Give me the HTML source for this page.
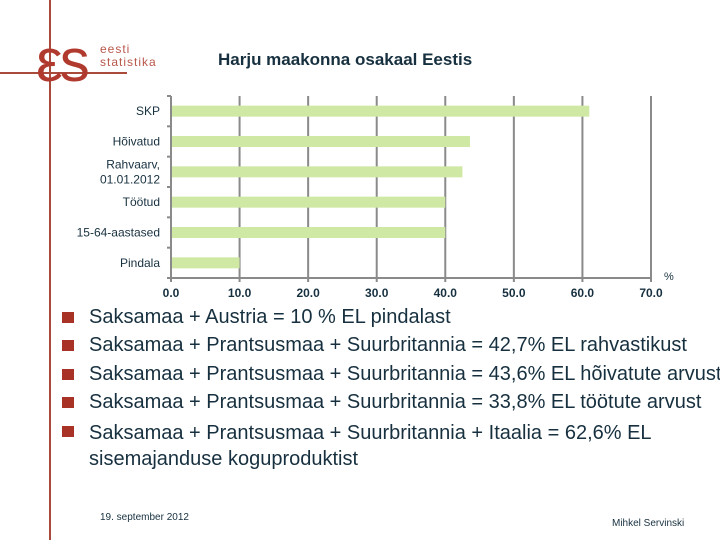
<!DOCTYPE html>
<html><head><meta charset="utf-8"><style>
body{margin:0;width:720px;height:540px;background:#fff;position:relative;overflow:hidden;font-family:"Liberation Sans",sans-serif}
.abs{position:absolute}
.bl{position:absolute;left:89px;font-size:20px;color:#17303f;white-space:nowrap;line-height:22px}
.sq{position:absolute;left:62px;width:12px;height:11px;background:#a93226}
</style></head><body>
<div class="abs" style="left:49px;top:0;width:2px;height:540px;background:#a94a3a"></div>
<div class="abs" style="left:0;top:72px;width:127px;height:2px;background:#a94a3a"></div>
<div class="abs" style="left:36px;top:28px;font-size:60px;color:#b03a2e;line-height:66px;letter-spacing:-3px">εs</div>
<div class="abs" style="left:100px;top:43px;font-size:12px;color:#b8574a;line-height:13px;letter-spacing:1px">eesti<br>statistika</div>
<div class="abs" style="left:218px;top:50px;font-size:17px;font-weight:bold;color:#17303f">Harju maakonna osakaal Eestis</div>
<svg class="abs" style="left:0;top:0" width="720" height="310">
<g id="g"></g></svg>
<div class="sq" style="top:312px"></div>
<div class="bl" style="top:306px">Saksamaa + Austria = 10 % EL pindalast</div>
<div class="sq" style="top:340px"></div>
<div class="bl" style="top:334px">Saksamaa + Prantsusmaa + Suurbritannia = 42,7% EL rahvastikust</div>
<div class="sq" style="top:369px"></div>
<div class="bl" style="top:363px">Saksamaa + Prantsusmaa + Suurbritannia = 43,6% EL hõivatute arvust</div>
<div class="sq" style="top:397px"></div>
<div class="bl" style="top:391px">Saksamaa + Prantsusmaa + Suurbritannia = 33,8% EL töötute arvust</div>
<div class="sq" style="top:426px"></div>
<div class="bl" style="top:420px;line-height:26px">Saksamaa + Prantsusmaa + Suurbritannia + Itaalia = 62,6% EL<br>sisemajanduse koguproduktist</div>
<div class="abs" style="left:100px;top:512px;font-size:10px;color:#17303f">19. september 2012</div>
<div class="abs" style="left:612px;top:518px;font-size:10px;color:#17303f">Mihkel Servinski</div>
<script>
const categories=["SKP","Hõivatud","Rahvaarv,|01.01.2012","Töötud","15-64-aastased","Pindala"];
const values=[61.0,43.6,42.5,40.0,40.0,10.0];
const ticks=[0,10,20,30,40,50,60,70];
const tickLabels=["0.0","10.0","20.0","30.0","40.0","50.0","60.0","70.0"];
const x0=171,x1=651,yTop=96,yBot=278,vmax=70;
const xs=v=>x0+(x1-x0)*v/vmax;
const band=(yBot-yTop)/categories.length;
const NS="http://www.w3.org/2000/svg",g=document.getElementById('g');
function mk(t,a){const e=document.createElementNS(NS,t);for(const k in a)e.setAttribute(k,a[k]);g.appendChild(e);return e;}
ticks.forEach((t,i)=>{
 const l=mk('line',{x1:xs(t),x2:xs(t),y1:yTop,y2:yBot+4,stroke:'#8a8a8a','stroke-width':2});
 
 
 const tx=mk('text',{x:xs(t),y:297,'text-anchor':'middle','font-size':12,'font-weight':'bold',fill:'#17303f'});
 tx.textContent=tickLabels[i];
 
 
});
const ax=mk('line',{x1:x0,x2:x1,y1:yBot,y2:yBot,stroke:'#8a8a8a','stroke-width':2});


for(let i=0;i<=categories.length;i++){mk('line',{x1:x0-4,x2:x0,y1:yTop+i*band,y2:yTop+i*band,stroke:'#8a8a8a','stroke-width':2});}
categories.forEach((c,i)=>{
 const cy=yTop+band*(i+0.5);
 const r=mk('rect',{x:x0+1,y:cy-5.5,width:xs(values[i])-x0-1,height:11,fill:'#cfe8a4'});
 
 
 const parts=c.split('|');
 parts.forEach((p,j)=>{
  const t=mk('text',{x:160,y:cy+4+(j-(parts.length-1)/2)*15,'text-anchor':'end','font-size':12,fill:'#17303f'});
  t.textContent=p;
  
  
 });
});
const pc=mk('text',{x:664,y:280,'font-size':11,fill:'#17303f'});pc.textContent='%';


</script>
</body></html>
